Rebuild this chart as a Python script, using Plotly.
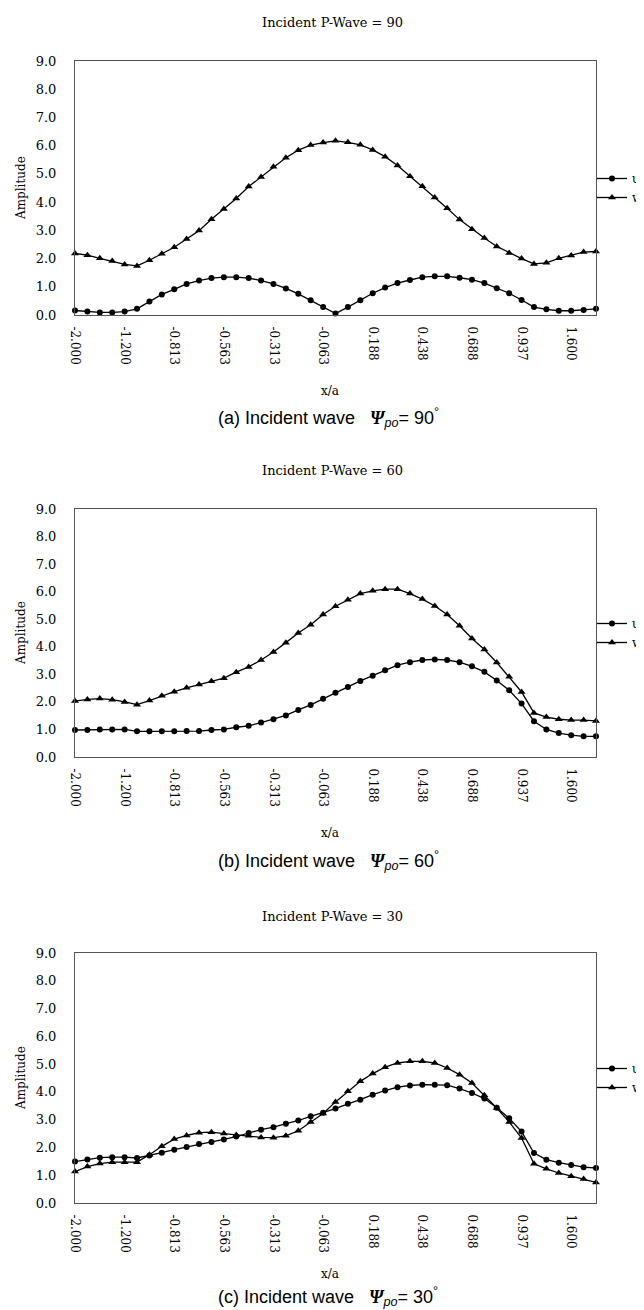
import plotly.graph_objects as go

# x/a positions (category labels), ticks every 4th point
x_labels = [
    "-2.000", "-1.800", "-1.600", "-1.400", "-1.200", "-1.000", "-0.938", "-0.875",
    "-0.813", "-0.750", "-0.688", "-0.625", "-0.563", "-0.500", "-0.438", "-0.375",
    "-0.313", "-0.250", "-0.188", "-0.125", "-0.063", "0.000", "0.063", "0.125",
    "0.188", "0.250", "0.313", "0.375", "0.438", "0.500", "0.563", "0.625",
    "0.688", "0.750", "0.813", "0.875", "0.937", "1.000", "1.200", "1.400",
    "1.600", "1.800", "2.000",
]
tick_labels = ["-2.000", "-1.200", "-0.813", "-0.563", "-0.313", "-0.063",
               "0.188", "0.438", "0.688", "0.937", "1.600"]
y_ticks = [0, 1, 2, 3, 4, 5, 6, 7, 8, 9]

# (a) incident angle 90
u_90 = [0.16, 0.12, 0.09, 0.09, 0.12, 0.22, 0.48, 0.73, 0.91, 1.10, 1.22, 1.31, 1.34,
        1.34, 1.31, 1.22, 1.10, 0.94, 0.75, 0.52, 0.28, 0.05, 0.28, 0.52, 0.77, 0.97,
        1.13, 1.24, 1.34, 1.37, 1.37, 1.32, 1.25, 1.13, 0.95, 0.77, 0.53, 0.28, 0.20,
        0.15, 0.15, 0.18, 0.22]
w_90 = [2.18, 2.12, 2.01, 1.91, 1.79, 1.74, 1.94, 2.17, 2.40, 2.69, 2.99, 3.39, 3.76,
        4.13, 4.55, 4.89, 5.25, 5.57, 5.84, 6.02, 6.11, 6.17, 6.12, 6.03, 5.85, 5.61,
        5.30, 4.92, 4.56, 4.16, 3.78, 3.38, 3.04, 2.73, 2.43, 2.20, 2.00, 1.81, 1.85,
        2.01, 2.11, 2.23, 2.25]

# (b) incident angle 60
u_60 = [0.98, 0.98, 1.00, 1.00, 1.00, 0.93, 0.93, 0.93, 0.93, 0.94, 0.94, 0.98, 1.00,
        1.08, 1.13, 1.25, 1.37, 1.51, 1.71, 1.89, 2.11, 2.33, 2.54, 2.76, 2.95, 3.15,
        3.33, 3.44, 3.52, 3.54, 3.52, 3.44, 3.29, 3.09, 2.78, 2.42, 1.94, 1.30, 1.00,
        0.87, 0.79, 0.75, 0.75]
w_60 = [2.03, 2.09, 2.12, 2.08, 2.00, 1.90, 2.05, 2.22, 2.37, 2.51, 2.63, 2.75, 2.86,
        3.08, 3.27, 3.52, 3.81, 4.15, 4.50, 4.80, 5.17, 5.47, 5.71, 5.93, 6.03, 6.09,
        6.09, 5.93, 5.73, 5.48, 5.17, 4.76, 4.30, 3.90, 3.43, 2.91, 2.36, 1.60, 1.45,
        1.37, 1.34, 1.34, 1.31]

# (c) incident angle 30
u_30 = [1.49, 1.57, 1.63, 1.65, 1.65, 1.62, 1.71, 1.81, 1.92, 2.02, 2.12, 2.20, 2.29,
        2.39, 2.52, 2.64, 2.73, 2.85, 2.97, 3.12, 3.25, 3.40, 3.57, 3.72, 3.90, 4.05,
        4.17, 4.23, 4.26, 4.26, 4.24, 4.12, 3.96, 3.76, 3.43, 3.05, 2.57, 1.80, 1.56,
        1.45, 1.37, 1.29, 1.26]
w_30 = [1.13, 1.31, 1.42, 1.47, 1.47, 1.47, 1.74, 2.04, 2.30, 2.43, 2.53, 2.55, 2.50,
        2.45, 2.42, 2.36, 2.35, 2.42, 2.60, 2.92, 3.22, 3.64, 4.02, 4.38, 4.66, 4.89,
        5.04, 5.10, 5.10, 5.04, 4.86, 4.62, 4.32, 3.88, 3.42, 2.92, 2.34, 1.41, 1.23,
        1.08, 0.96, 0.86, 0.74]

angles = ["90", "60", "30"]
captions = ["(a)", "(b)", "(c)"]
series = [(u_90, w_90), (u_60, w_60), (u_30, w_30)]

W, H = 644, 1310
L, R = 67, 56
SERIF = "DejaVu Serif, Liberation Serif, serif"
NARROW = "Liberation Sans Narrow, Arial Narrow, Liberation Sans, Arial, sans-serif"

# pixel layout of each panel: title, plot top, plot bottom, x-title, caption
panels = [
    dict(title=15, top=53, bottom=307, xt=383, cap=410),
    dict(title=462, top=501, bottom=749, xt=825, cap=852),
    dict(title=908, top=945, bottom=1195, xt=1266, cap=1288),
]


def py(y):
    return 1 - y / H


def px(x):
    return (x - L) / (W - L - R)


fig = go.Figure()
annotations = []

for k, (u, w) in enumerate(series):
    n = "" if k == 0 else str(k + 1)
    p = panels[k]
    leg = "legend" + n

    fig.add_trace(go.Scatter(
        x=x_labels, y=u, mode="lines+markers", name="u",
        xaxis="x" + n, yaxis="y" + n, legend=leg,
        line=dict(color="black", width=1.3),
        marker=dict(symbol="circle", size=6, color="black"),
        cliponaxis=False,
    ))
    fig.add_trace(go.Scatter(
        x=x_labels, y=w, mode="lines+markers", name="w",
        xaxis="x" + n, yaxis="y" + n, legend=leg,
        line=dict(color="black", width=1.3),
        marker=dict(symbol="triangle-up", size=7, color="black"),
        cliponaxis=False,
    ))

    fig.update_layout({
        "xaxis" + n: dict(
            type="category", domain=[0, 1], anchor="y" + n,
            range=[0, len(x_labels) - 1],
            tickmode="array", tickvals=tick_labels, ticktext=tick_labels,
            tickangle=90, ticks="", ticklabelstandoff=8,
            tickfont=dict(family=SERIF, size=12, color="black"),
            showgrid=False, zeroline=False,
            showline=True, linecolor="#555", linewidth=1, mirror=True,
        ),
        "yaxis" + n: dict(
            domain=[py(p["bottom"]), py(p["top"])], anchor="x" + n,
            range=[0, 9], tickvals=y_ticks, tickformat=".1f",
            ticks="", ticklabelstandoff=15,
            tickfont=dict(family=SERIF, size=13, color="black"),
            showgrid=False, zeroline=False,
            showline=True, linecolor="#555", linewidth=1, mirror=True,
        ),
        leg: dict(
            x=px(584), xref="paper", xanchor="left",
            y=py((p["top"] + p["bottom"]) / 2), yanchor="middle",
            font=dict(family=SERIF, size=12, color="black"),
            bgcolor="rgba(0,0,0,0)", itemwidth=30, tracegroupgap=0,
        ),
    })

    annotations += [
        dict(text=f"Incident P-Wave = {angles[k]}", x=px(324), y=py(p["title"]),
             font=dict(family=SERIF, size=13, color="black")),
        dict(text="Amplitude", x=px(13), y=py((p["top"] + p["bottom"]) / 2),
             textangle=-90, font=dict(family=SERIF, size=12, color="black")),
        dict(text="x/a", x=px(322), y=py(p["xt"]),
             font=dict(family=SERIF, size=12, color="black")),
        dict(text=f"{captions[k]} Incident wave\u00a0\u00a0\u00a0"
                  f"<span style='font-family:Liberation Serif'><b><i>Ψ</i></b></span>"
                  f"<sub><i>po</i></sub>= {angles[k]}<sup>°</sup>",
             x=px(320), y=py(p["cap"]),
             font=dict(family=NARROW, size=18, color="black")),
    ]

for a in annotations:
    a.update(xref="paper", yref="paper", showarrow=False,
             xanchor="center", yanchor="middle")

fig.update_layout(
    width=W, height=H,
    margin=dict(l=L, r=R, t=0, b=0, autoexpand=False),
    plot_bgcolor="white", paper_bgcolor="white",
    showlegend=True,
    annotations=annotations,
)

fig.write_html("out.html")
